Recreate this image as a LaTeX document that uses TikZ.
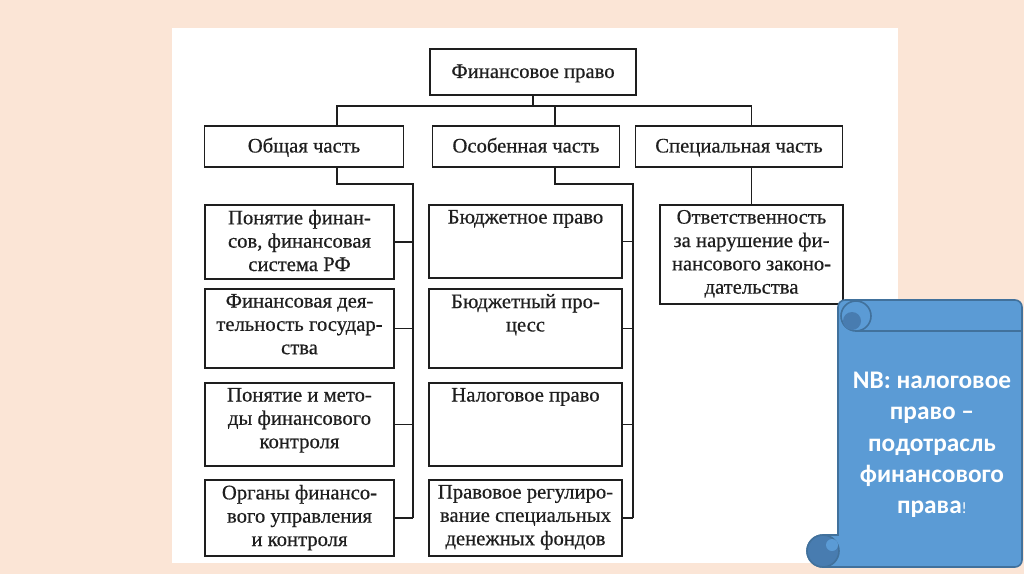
\documentclass[tikz,border=0pt]{standalone}
\usepackage{fontspec}
\setmainfont{Liberation Serif}
\newfontfamily\scanfont[FakeBold=0.5]{Liberation Serif}
\newfontfamily\notefont{Carlito}
\usetikzlibrary{positioning,calc}
\definecolor{slidebg}{RGB}{251,229,214}
\definecolor{scrollblue}{RGB}{91,155,213}
\definecolor{scrolledge}{RGB}{65,113,156}
\definecolor{scrollshade}{RGB}{72,124,176}
\definecolor{inkgray}{RGB}{30,30,30}
\newlength\pxu
\setlength\pxu{0.75pt}
% text block pinned to the top of a box
\newcommand{\cellbox}[3]{\parbox[c][\dimexpr#2\pxu-10\pxu\relax][t]{\dimexpr#1\pxu-6\pxu\relax}{\centering #3}}

\begin{document}
\begin{tikzpicture}[x=0.75pt, y=-0.75pt,
    cell/.style={draw=inkgray, line width=1.45pt, inner sep=0pt, text=inkgray,
        font=\scanfont\fontsize{15.5}{17.5}\selectfont, align=center},
    head/.style={cell, text height=11pt, text depth=2pt},
    link/.style={draw=inkgray, line width=1.45pt}]
    \useasboundingbox (0,0) rectangle (1024,574);
    \fill[slidebg] (0,0) rectangle (1024,574);
    \fill[white] (172,28) rectangle (898,563);

    % top and the three parts
    \node[head, minimum width=206\pxu, minimum height=46\pxu] (fp) at (533,72) {Финансовое право};
    \node[head, minimum width=199\pxu, minimum height=41\pxu] (obsh) at (304,146.5) {Общая часть};
    \node[head, minimum width=187\pxu, minimum height=41\pxu] (osob) at (526,146.5) {Особенная часть};
    \node[head, minimum width=207\pxu, minimum height=41\pxu] (spec) at (739,146.5) {Специальная часть};

    % general part
    \node[cell, minimum width=189\pxu, minimum height=74\pxu] (g1) at (299.5,242) {\cellbox{189}{74}{Понятие финан-\\сов, финансовая\\система РФ}};
    \node[cell, minimum width=189\pxu, minimum height=79\pxu] (g2) at (299.5,328.5) {\cellbox{189}{79}{Финансовая дея-\\тельность государ-\\ства}};
    \node[cell, minimum width=189\pxu, minimum height=83\pxu] (g3) at (299.5,424.5) {\cellbox{189}{83}{Понятие и мето-\\ды финансового\\контроля}};
    \node[cell, minimum width=189\pxu, minimum height=76\pxu] (g4) at (299.5,518) {\cellbox{189}{76}{Органы финансо-\\вого управления\\и контроля}};

    % special part
    \node[cell, minimum width=193\pxu, minimum height=73\pxu] (s1) at (525.5,241.5) {\cellbox{193}{73}{Бюджетное право}};
    \node[cell, minimum width=193\pxu, minimum height=79\pxu] (s2) at (525.5,328.5) {\cellbox{193}{79}{Бюджетный про-\\цесс}};
    \node[cell, minimum width=193\pxu, minimum height=83\pxu] (s3) at (525.5,424.5) {\cellbox{193}{83}{Налоговое право}};
    \node[cell, minimum width=193\pxu, minimum height=76\pxu] (s4) at (525.5,518) {\cellbox{193}{76}{Правовое регулиро-\\вание специальных\\денежных фондов}};

    % specific part
    \node[cell, minimum width=183\pxu, minimum height=99\pxu] (r1) at (751.5,254.5) {\cellbox{183}{99}{Ответственность\\за нарушение фи-\\нансового законо-\\дательства}};

    % connectors
    \coordinate (barL) at (337,106);
    \coordinate (barM) at (555,106);
    \coordinate (barR) at (751.5,106);
    \coordinate (gk) at (337,184);
    \coordinate (gs) at (413,184);
    \coordinate (sk) at (555,184);
    \coordinate (ss) at (633,184);
    \draw[link] (fp.south) -- (fp.south |- barL);
    \draw[link] (obsh.north -| barL) -- (barL) -- (barR) -- (spec.north -| barR);
    \draw[link] (barM) -- (osob.north -| barM);
    \draw[link] (obsh.south -| gk) -- (gk) -- (gs) -- (gs |- g4.east);
    \draw[link] (osob.south -| sk) -- (sk) -- (ss) -- (ss |- s4.east);
    \draw[link] (spec.south -| r1.north) -- (r1.north);
    \foreach \i in {1,...,4} {
        \draw[link] (g\i.east) -- (g\i.east -| gs);
        \draw[link] (s\i.east) -- (s\i.east -| ss);
    }

    % scroll with the note
    \filldraw[fill=scrollblue, draw=scrolledge, line width=1.2pt] (838,535) [rounded corners=7\pxu] -- (838,300) -- (1022,300) -- (1022,567) [sharp corners] -- (823,567) arc[start angle=90, end angle=270, radius=16] -- cycle;
    \filldraw[fill=scrollshade, draw=scrolledge, line width=1.2pt] (823,551) circle[radius=16];
    \fill[scrollblue] (832,545) circle[radius=6];
    \draw[scrolledge, line width=1.2pt] (855,331) -- (1021,331);
    \filldraw[fill=scrollblue, draw=scrolledge, line width=1.2pt] (856,316) circle[radius=15];
    \fill[scrollshade] (852,321) circle[radius=9];
    \node[text=white, font=\notefont\bfseries\fontsize{19}{23.5}\selectfont, align=center] (note) at (932,445)
        {NB: налоговое\\право –\\подотрасль\\финансового\\права{\mdseries\fontsize{12}{14}\selectfont !}};
\end{tikzpicture}
\end{document}
